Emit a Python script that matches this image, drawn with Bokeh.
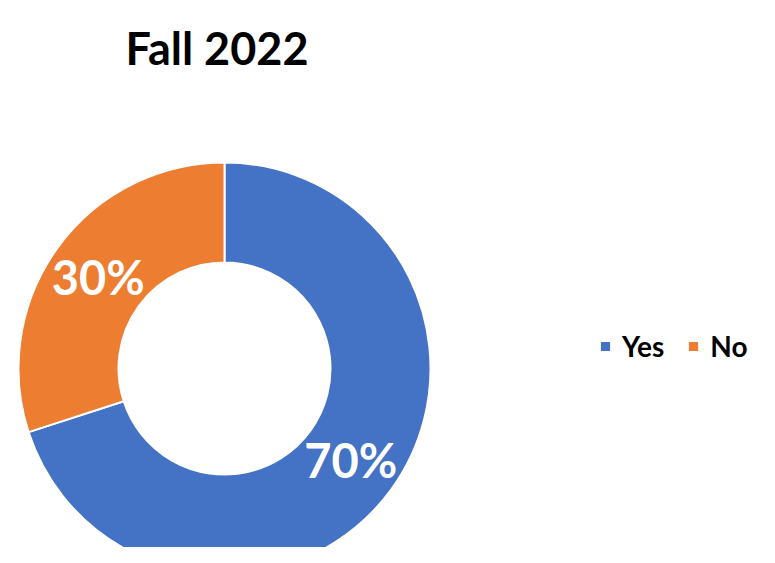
from bokeh.plotting import figure
from bokeh.models import Range1d, Legend, LegendItem, ColumnDataSource
from bokeh.core.properties import value
from bokeh.embed import file_html
from bokeh.resources import INLINE
import numpy as np

title_text = "Fall 2022"
categories = ["Yes", "No"]
values = [70, 30]
colors = ["#4472C4", "#ED7D31"]

W, H = 759, 547
# donut center in plot pixel space
cx, cy = 224, 179  # from left, from bottom
p = figure(width=W, height=H, output_backend="svg", toolbar_location=None,
           x_axis_type=None, y_axis_type=None,
           x_range=Range1d(-cx, W - cx), y_range=Range1d(-cy, H - cy),
           min_border=0)
p.outline_line_color = None
p.grid.visible = False
p.background_fill_color = "white"

vals = np.array(values, dtype=float)
frac = vals / vals.sum()
cum = np.concatenate([[0], np.cumsum(frac)])
start = np.deg2rad(90 - cum[:-1] * 360)
end = np.deg2rad(90 - cum[1:] * 360)
mid = (start + end) / 2
r_in, r_out = 106, 206
r_mid = (r_in + r_out) / 2

src = ColumnDataSource(dict(cat=categories, start=start, end=end, color=colors,
                            lx=r_mid * np.cos(mid), ly=r_mid * np.sin(mid),
                            lab=[f"{round(f*100)}%" for f in frac]))

r = p.annular_wedge(x=0, y=0, inner_radius=r_in, outer_radius=r_out,
                    start_angle="start", end_angle="end", direction="clock",
                    fill_color="color", line_color="white", line_width=2, source=src)

p.text(x="lx", y="ly", text="lab", source=src, text_color="white",
       text_font=value("Lato"), text_font_size="47px", text_font_style="bold",
       text_align="center", text_baseline="middle")

p.text(x=[216.5 - cx], y=[(H - 47.5) - cy], text=[title_text], text_color="black",
       text_font=value("Lato"), text_font_size="45px", text_font_style="bold",
       text_align="center", text_baseline="middle")

items = [LegendItem(label=c, renderers=[r], index=i) for i, c in enumerate(categories)]
legend = Legend(items=items, orientation="horizontal", location=(598, 184),
                label_text_font="Lato", label_text_font_style="bold",
                label_text_font_size="28px", label_text_color="black",
                glyph_width=14, glyph_height=14, label_standoff=10, spacing=22,
                padding=0, margin=0, border_line_color=None,
                background_fill_alpha=0, label_height=34)
p.add_layout(legend, "center")

open("out.html", "w").write(file_html(p, INLINE))
